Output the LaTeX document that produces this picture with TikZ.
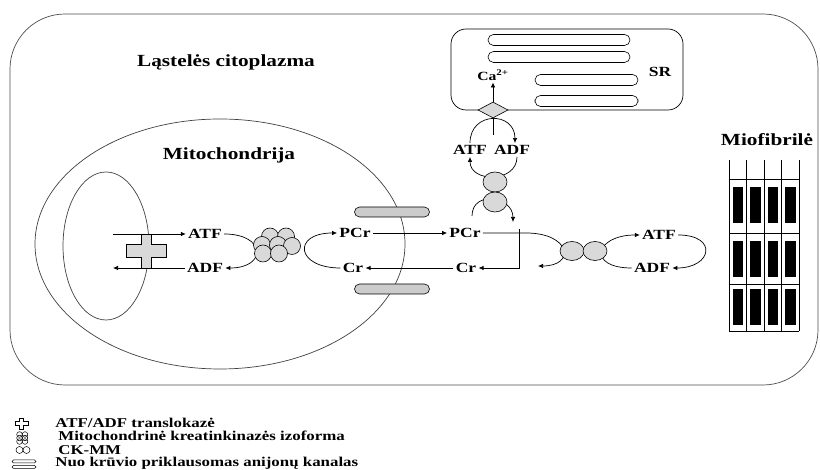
\documentclass[tikz,border=0pt]{standalone}
\usepackage{fontspec}
\setmainfont{Liberation Serif}[FakeStretch=1.25]
\usetikzlibrary{arrows.meta,shapes.geometric}

\tikzset{
  lbl/.style={font=\fontsize{14}{16}\selectfont\bfseries, inner sep=2pt},
  ttl/.style={font=\fontsize{17}{20}\selectfont\bfseries},
  key/.style={font=\fontsize{13.5}{15}\selectfont\bfseries, anchor=west, inner sep=0pt},
  flow/.style={-{Latex[length=5pt,width=4.5pt]}},
  ck/.style={draw, fill=black!15, line width=0.6pt},
  pore/.style={draw, fill=black!20, rounded corners=5pt, line width=0.6pt,
    minimum width=75pt, minimum height=10pt, inner sep=0pt},
  tube/.style={draw, rounded corners=5.5pt, line width=0.6pt},
}

\begin{document}
\begin{tikzpicture}[x=10pt, y=10pt, line width=0.7pt]
  \useasboundingbox (0,0) rectangle (82,47);

  % cell outline
  \draw[black!70, rounded corners=55pt] (1,8.5) rectangle (81.8,45.6);
  \node[ttl] (cyto) at (22.6,40.8) {Ląstelės citoplazma};

  % mitochondrion: outer and inner membrane
  \draw[black!75] (22,22.6) ellipse (18.5 and 12.5);
  \draw[black!75] (10.6,22.4) ellipse (4.3 and 7.4);
  \node[ttl] (mito) at (22.9,31.5) {Mitochondrija};

  % channels in the outer membrane
  \node[pore] (pore1) at (39.2,25.8) {};
  \node[pore] (pore2) at (39.2,18.1) {};

  % labels
  \node[lbl] (atfm) at (20.5,23.6) {ATF};
  \node[lbl] (adfm) at (20.5,20.2) {ADF};
  \node[lbl] (pcrm) at (35.5,23.7) {PCr};
  \node[lbl] (crm) at (35.3,20.2) {Cr};
  \node[lbl] (pcrc) at (46.5,23.7) {PCr};
  \node[lbl] (crc) at (46.6,20.2) {Cr};

  % translocase
  \coordinate (inT) at (11.3,23.6);
  \coordinate (inD) at (11.3,20.2);
  \draw[flow] (inT) -- (atfm);
  \draw[flow] (adfm) -- (inD);
  \draw[fill=black!15, line width=0.6pt] (12.6,21.25) -- (12.6,22.55) -- (14.1,22.55) -- (14.1,23.6)
    -- (15.1,23.6) -- (15.1,22.55) -- (16.6,22.55) -- (16.6,21.25) -- (15.1,21.25)
    -- (15.1,20.2) -- (14.1,20.2) -- (14.1,21.25) -- cycle;

  % mitochondrial creatine kinase
  \draw[flow] (atfm.east) .. controls +(4.2,0) and +(4.2,0) .. (adfm.east);
  \draw[flow] (crm.west) .. controls +(-4.5,0) and +(-4.5,0) .. (pcrm.west);
  \foreach \x/\y in {27.0/23.35, 28.6/23.35, 26.2/22.5, 27.8/22.5, 29.2/22.4, 26.3/21.65, 27.9/21.65}
    \draw[ck] (\x,\y) circle (0.85);

  % transport across the outer membrane
  \draw[flow] (pcrm) -- (pcrc);
  \draw[flow] (crc) -- (crm);

  % SR with Ca pump
  \draw[rounded corners=15pt] (45.1,36.0) rectangle (68.3,44.1);
  \draw[tube] (48.8,42.45) rectangle (63.0,43.55);
  \draw[tube] (48.8,40.75) rectangle (63.0,41.85);
  \draw[tube] (53.5,38.45) rectangle (63.8,39.55);
  \draw[tube] (53.5,36.35) rectangle (63.8,37.45);
  \node[lbl] (sr) at (66.0,39.8) {SR};
  \node[lbl, font=\fontsize{12.5}{14}\selectfont\bfseries] (ca) at (49.3,39.5) {Ca\textsuperscript{2+}};
  \node[lbl] (atfs) at (47.0,32.0) {ATF};
  \node[lbl] (adfs) at (51.2,32.0) {ADF};
  \coordinate (stem) at (49.3,33.5);
  \draw[flow] (atfs.north) .. controls +(0,3.2) and +(0,3.2) .. ([xshift=3pt]adfs.north);
  \node[draw, diamond, fill=black!15, line width=0.6pt, minimum width=30pt,
    minimum height=16pt, inner sep=0pt] (pump) at (49.3,36.0) {};
  \draw (stem) -- (pump.south);
  \draw[flow] (pump.north) -- (ca.south);

  % CK-MM next to the SR
  \coordinate (ckT) at (47.2,25.4);
  \coordinate (jn) at (51.9,24.1);
  \draw[flow] (ckT) .. controls +(0,2.6) and +(0,2.6) .. (51.3,24.8);
  \draw[flow] ([xshift=5pt]adfs.south) .. controls +(0,-2.6) and +(0,-2.6) .. (atfs.south);
  \draw[ck] (49.5,28.8) ellipse (1.2 and 1.0);
  \draw[ck] (49.5,26.8) ellipse (1.2 and 1.0);
  \draw[flow] (jn) |- (crc);

  % CK-MM next to the myofibril
  \node[lbl] (atfr) at (65.9,23.5) {ATF};
  \node[lbl] (adfr) at (65.2,20.2) {ADF};
  \coordinate (ckin) at (53.8,20.4);
  \draw[flow] (pcrc.east) -- (52.6,23.7) .. controls +(4.5,0) and +(3.8,0) .. (ckin);
  \draw[flow] (adfr.west) .. controls +(-4.5,0) and +(-4.5,0) .. (atfr.west);
  \draw[flow] (atfr.east) .. controls +(4,0) and +(4,0) .. (adfr.east);
  \draw[ck] (57.2,21.9) ellipse (1.2 and 0.95);
  \draw[ck] (59.5,21.9) ellipse (1.2 and 0.95);

  % myofibril
  \node[ttl] (myo) at (76.7,33.0) {Miofibrilė};
  \foreach \x in {72.9,74.65,76.4,78.15,79.9}
    \draw[line width=0.6pt] (\x,13.9) -- (\x,31.0);
  \foreach \y in {29.1,23.7,18.6,13.9}
    \draw[line width=0.6pt] (72.9,\y) -- (79.9,\y);
  \foreach \x in {73.2,74.95,76.7,78.45}
    \foreach \y in {24.7,19.3,14.5}
      \filldraw[draw=white, line width=0.5pt] (\x,\y) rectangle +(1.15,3.65);

  % legend
  \draw[line width=0.5pt] (1.5,4.45) -- (1.5,4.85) -- (1.95,4.85) -- (1.95,5.2) -- (2.35,5.2) -- (2.35,4.85)
    -- (2.8,4.85) -- (2.8,4.45) -- (2.35,4.45) -- (2.35,4.1) -- (1.95,4.1) -- (1.95,4.45) -- cycle;
  \foreach \x/\y in {1.95/3.55, 2.5/3.55, 1.95/3.2, 2.5/3.2, 1.95/2.85, 2.5/2.85}
    \draw[line width=0.5pt] (\x,\y) circle (0.28);
  \draw[line width=0.5pt] (1.95,2.0) circle (0.35);
  \draw[line width=0.5pt] (2.65,2.0) circle (0.35);
  \draw[line width=0.5pt, rounded corners=1.5pt] (1.2,0.7) rectangle (3.6,1.0);
  \draw[line width=0.5pt, rounded corners=1.5pt] (1.2,0.15) rectangle (3.6,0.45);
  \node[key] (k1) at (5.5,4.7) {ATF/ADF translokazė};
  \node[key] (k2) at (5.8,3.4) {Mitochondrinė kreatinkinazės izoforma};
  \node[key] (k3) at (5.8,2.0) {CK-MM};
  \node[key] (k4) at (5.5,0.7) {Nuo krūvio priklausomas anijonų kanalas};
\end{tikzpicture}
\end{document}
